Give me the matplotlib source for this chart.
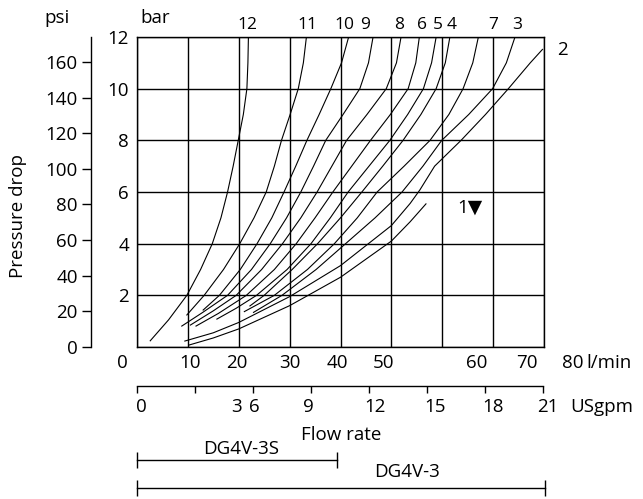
import matplotlib.pyplot as plt
from matplotlib import transforms

plt.rcParams['font.family'] = ['Open Sans', 'DejaVu Sans']

W, H = 643, 499


def fx(px):
    return px / W


def fy(py):
    return 1 - py / H


# pressure drop curves: flow in l/min, pressure drop in bar
q12 = [2.6, 6.2, 9.8, 12.5, 14.8, 16.5, 17.8, 18.9, 19.9, 20.9, 21.6, 21.8, 21.9]
p12 = [0.24, 1.05, 2.0, 3.0, 4.0, 5.0, 6.0, 7.0, 8.0, 9.0, 10.0, 11.0, 12.0]
q11 = [9.8, 13.2, 17.0, 20.2, 23.0, 25.4, 27.0, 28.4, 30.1, 31.7, 32.7, 33.3]
p11 = [1.24, 2, 3, 4, 5, 6, 7, 8, 9, 10, 11, 12]
q10 = [13.0, 16.2, 20.3, 23.6, 26.5, 28.9, 31.2, 33.4, 35.8, 38.1, 40.2, 41.6]
p10 = [1.43, 2, 3, 4, 5, 6, 7, 8, 9, 10, 11, 12]
q9 = [8.8, 13.0, 17.8, 22.5, 26.2, 29.4, 32.2, 34.7, 37.1, 40.5, 43.8, 45.5, 46.4]
p9 = [0.81, 1.35, 2, 3, 4, 5, 6, 7, 8, 9, 10, 11, 12]
q8 = [10.5, 15.0, 19.5, 24.5, 28.6, 32.2, 35.4, 38.3, 41.2, 45.2, 49.0, 51.0, 51.9]
p8 = [0.85, 1.4, 2, 3, 4, 5, 6, 7, 8, 9, 10, 11, 12]
q6 = [11.6, 16.0, 21.5, 27.0, 31.3, 35.0, 38.5, 42.2, 45.9, 49.8, 53.3, 54.8, 55.5]
p6 = [0.81, 1.3, 2, 3, 4, 5, 6, 7, 8, 9, 10, 11, 12]
q5 = [15.7, 19.5, 23.5, 29.5, 34.2, 38.0, 41.5, 45.6, 49.7, 53.2, 56.3, 57.9, 58.8]
p5 = [1.08, 1.5, 2, 3, 4, 5, 6, 7, 8, 9, 10, 11, 12]
q4 = [22.2, 25.0, 30.5, 35.5, 40.0, 44.2, 48.3, 52.3, 55.8, 58.8, 60.6, 61.5]
p4 = [1.59, 2, 3, 4, 5, 6, 7, 8, 9, 10, 11, 12]
q7 = [21.1, 27.0, 33.5, 38.8, 43.3, 47.2, 52.5, 57.6, 61.3, 64.1, 66.0, 67.1]
p7 = [1.37, 2, 3, 4, 5, 6, 7, 8, 9, 10, 11, 12]
q3 = [22.9, 28.5, 35.2, 41.0, 46.8, 52.1, 56.2, 59.9, 65.2, 69.9, 72.6, 74.3]
p3 = [1.34, 2, 3, 4, 5, 6, 7, 8, 9, 10, 11, 12]
q2 = [9.4, 15.0, 20.0, 30.0, 40.0, 50.0, 53.7, 55.6, 58.5, 63.7, 68.5, 73.0, 77.3, 79.7]
p2 = [0.23, 0.55, 0.95, 1.95, 3.15, 4.7, 5.56, 6.08, 7.0, 8.0, 9.0, 10.0, 11.0, 11.52]
q1 = [10.3, 15.0, 20.0, 30.0, 40.0, 50.0, 53.7, 56.8]
p1 = [0.08, 0.35, 0.7, 1.6, 2.7, 4.1, 4.85, 5.54]

curve_names = ['12', '11', '10', '9', '8', '6', '5', '4', '7', '3']
curve_label_q = [21.8, 33.4, 40.8, 44.8, 51.5, 56.0, 59.2, 61.9, 70.0, 74.8]

# axis ticks
bar_ticks = [0, 2, 4, 6, 8, 10, 12]
bar_labels = ['', '2', '4', '6', '8', '10', '12']
psi_ticks = [0, 20, 40, 60, 80, 100, 120, 140, 160]
lpm_grid = [0, 10, 20, 30, 40, 50, 60, 70, 80]
lpm_labels = ['0', '10', '20', '30', '40', '50', '60', '70', '80']
lpm_label_pos = [-2.95, 10.4, 19.7, 30.1, 39.3, 48.4, 66.8, 76.7, 85.7]
gpm_ticks = [0, 3, 6, 9, 12, 15, 18, 21]
gpm_labels = ['0', '3', '6', '9', '12', '15', '18', '21']
gpm_label_pos = [0.24, 5.16, 6.05, 8.85, 12.31, 15.42, 18.42, 21.26]

# valve ranges in l/min
range_names = ['DG4V-3S', 'DG4V-3']
range_max = [39.4, 80.2]

fs = 13.5
fig = plt.figure(figsize=(W / 100, H / 100), dpi=100)
ax = fig.add_axes([fx(137), fy(347), fx(544) - fx(137), fy(37) - fy(347)])

curves = [(q12, p12), (q11, p11), (q10, p10), (q9, p9), (q8, p8), (q6, p6),
          (q5, p5), (q4, p4), (q7, p7), (q3, p3), (q2, p2), (q1, p1)]
for q, p in curves:
    ax.plot(q, p, color='black', linewidth=0.8)

ax.set_xlim(0, 80)
ax.set_ylim(0, 12)
ax.set_xticks(lpm_grid, labels=[])
ax.set_yticks(bar_ticks, labels=bar_labels)
ax.tick_params(axis='x', length=0)
ax.tick_params(axis='y', length=0, pad=5.8, labelsize=fs)
ax.grid(True, color='black', linewidth=1.0)
for s in ax.spines.values():
    s.set_linewidth(1.0)

# psi scale
psi = ax.secondary_yaxis(-0.113, functions=(lambda b: b * 14.5, lambda p: p / 14.5))
psi.set_yticks(psi_ticks)
psi.tick_params(length=6.5, width=1.0, pad=3, labelsize=fs)
psi.spines['left'].set_linewidth(1.0)

# curve labels above the box
for name, q in zip(curve_names, curve_label_q):
    ax.text(q, 12.45, name, ha='center', va='center', fontsize=12.5)
ax.text(83.7, 11.5, '2', ha='center', va='center', fontsize=fs)
ax.text(65.5, 5.38, '1▼', ha='center', va='center', fontsize=fs)

fig.text(fx(57), fy(18), 'psi', ha='center', va='center', fontsize=fs)
fig.text(fx(155), fy(18), 'bar', ha='center', va='center', fontsize=fs)
fig.text(fx(18), fy(216), 'Pressure drop', rotation=90, ha='center', va='center', fontsize=fs)

# l/min labels
tr = transforms.blended_transform_factory(ax.transData, fig.transFigure)
for q, lab in zip(lpm_label_pos, lpm_labels):
    ax.text(q, fy(363), lab, transform=tr, ha='center', va='center', fontsize=fs)
ax.text(88.4, fy(363), 'l/min', transform=tr, ha='left', va='center', fontsize=fs)

# USgpm scale
ax_gpm = fig.add_axes([fx(137), fy(386) - 0.01, fx(543) - fx(137), 0.01])
ax_gpm.set_xlim(0, 21)
ax_gpm.set_ylim(0, 1)
for side in ['bottom', 'left', 'right']:
    ax_gpm.spines[side].set_visible(False)
ax_gpm.spines['top'].set_linewidth(1.0)
ax_gpm.set_yticks([])
ax_gpm.set_xticks(gpm_ticks, labels=[])
ax_gpm.tick_params(axis='x', top=True, bottom=False, direction='in', length=5, width=1.0)
ax_gpm.patch.set_visible(False)
tr_g = transforms.blended_transform_factory(ax_gpm.transData, fig.transFigure)
for g, lab in zip(gpm_label_pos, gpm_labels):
    ax_gpm.text(g, fy(407), lab, transform=tr_g, ha='center', va='center', fontsize=fs)
ax_gpm.text(22.4, fy(407), 'USgpm', transform=tr_g, ha='left', va='center', fontsize=fs)

fig.text(fx(341), fy(435), 'Flow rate', ha='center', va='center', fontsize=fs)

# valve range bars
bar_y = [fy(460), fy(488)]
text_y = [fy(449), fy(472)]
text_x = [20.5, 53.0]
for name, qmax, yb, yt, xt in zip(range_names, range_max, bar_y, text_y, text_x):
    ax.plot([0, qmax], [yb, yb], transform=tr, color='black', linewidth=1.0,
            marker='|', markersize=11, markeredgewidth=1.0, clip_on=False)
    ax.text(xt, yt, name, transform=tr, ha='center', va='center', fontsize=fs)

ax.set_xlim(0, 80)
ax.set_ylim(0, 12)

fig.savefig('out.png', dpi=100)
